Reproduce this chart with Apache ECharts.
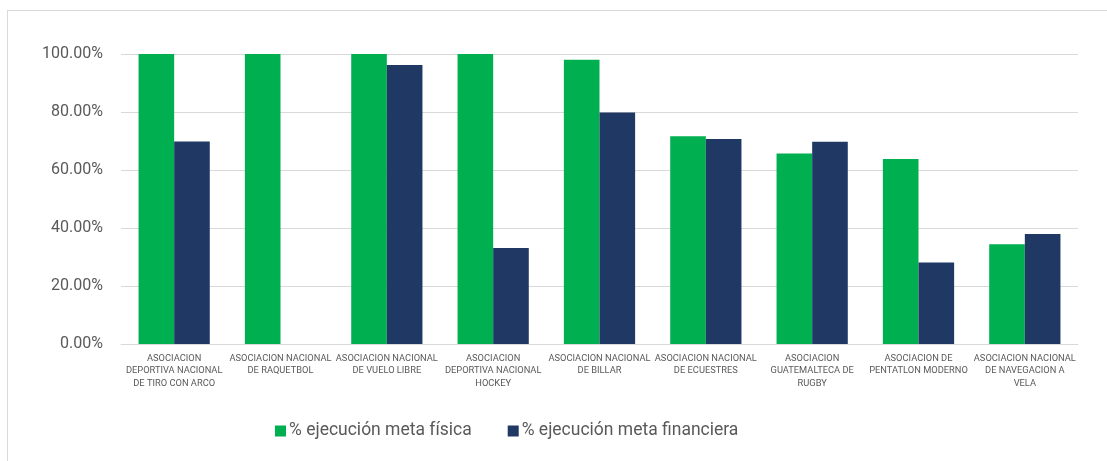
<!DOCTYPE html>
<html>
<head>
<meta charset="utf-8">
<script src="https://cdn.jsdelivr.net/npm/echarts@6/dist/echarts.min.js"></script>
<style>
  html, body { margin: 0; padding: 0; background: #fff; }
  #wrap { position: relative; width: 1107px; height: 461px; }
  #frame { position: absolute; left: 7px; top: 10px; right: 0; bottom: 0;
           border-left: 1px solid #d9d9d9; border-top: 1px solid #d9d9d9; pointer-events: none; }
  #chart { width: 1107px; height: 461px; }
</style>
</head>
<body>
<div id="wrap">
  <div id="chart"></div>
  <div id="frame"></div>
</div>
<script>
// categorias (con saltos de linea como en la grafica original)
const categories = [
  'ASOCIACION\nDEPORTIVA NACIONAL\nDE TIRO CON ARCO',
  'ASOCIACION NACIONAL\nDE RAQUETBOL',
  'ASOCIACION NACIONAL\nDE VUELO LIBRE',
  'ASOCIACION\nDEPORTIVA NACIONAL\nHOCKEY',
  'ASOCIACION NACIONAL\nDE BILLAR',
  'ASOCIACION NACIONAL\nDE ECUESTRES',
  'ASOCIACION\nGUATEMALTECA DE\nRUGBY',
  'ASOCIACION DE\nPENTATLON MODERNO',
  'ASOCIACION NACIONAL\nDE NAVEGACION A\nVELA'
];
const seriesNames = ['% ejecución meta física', '% ejecución meta financiera'];
const metaFisica = [100, 100, 100, 100, 98.0, 71.6, 65.7, 63.8, 34.4];
const metaFinanciera = [69.8, null, 96.2, 33.1, 79.8, 70.7, 69.7, 28.1, 37.9];
const yMin = 0, yMax = 100, yStep = 20;

const textColor = '#595959';
const font = 'Roboto, "Liberation Sans", sans-serif';

const chart = echarts.init(document.getElementById('chart'));
chart.setOption({
  animation: false,
  textStyle: { fontFamily: font },
  grid: { left: 121, right: 29, top: 54, bottom: 117, containLabel: false },
  legend: {
    left: 270,
    top: 417,
    itemWidth: 11,
    itemHeight: 11,
    itemGap: 36,
    icon: 'rect',
    textStyle: { fontSize: 17.5, color: textColor, fontFamily: font, padding: [0, 0, 0, -2] },
    data: seriesNames
  },
  xAxis: {
    type: 'category',
    data: categories,
    axisLine: { lineStyle: { color: '#d9d9d9', width: 1 } },
    axisTick: { show: false },
    axisLabel: {
      interval: 0,
      hideOverlap: false,
      fontSize: 9.3,
      lineHeight: 12.5,
      color: textColor,
      margin: 8
    }
  },
  yAxis: {
    type: 'value',
    min: yMin,
    max: yMax,
    interval: yStep,
    axisLine: { show: false },
    axisTick: { show: false },
    splitLine: { lineStyle: { color: '#d9d9d9', width: 1 } },
    axisLabel: {
      fontSize: 16,
      color: textColor,
      margin: 18,
      formatter: v => v.toFixed(2) + '%'
    }
  },
  series: [
    {
      name: seriesNames[0],
      type: 'bar',
      data: metaFisica,
      barGap: '0%',
      barCategoryGap: '33%',
      itemStyle: { color: '#00b050' }
    },
    {
      name: seriesNames[1],
      type: 'bar',
      data: metaFinanciera,
      itemStyle: { color: '#203864' }
    }
  ]
});
</script>
</body>
</html>
